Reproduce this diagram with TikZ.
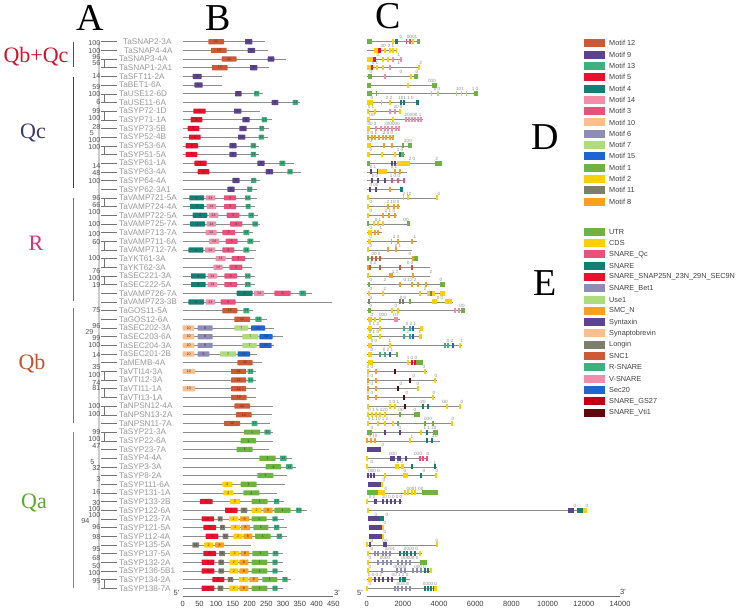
\documentclass[tikz,border=0pt]{standalone}
\usepackage{fontspec}
\setmainfont{Liberation Serif}
\newfontfamily\arialf{Liberation Sans}
\definecolor{m12}{HTML}{CC5A36}
\definecolor{m9}{HTML}{5C4390}
\definecolor{m13}{HTML}{3DB07E}
\definecolor{m5}{HTML}{E8112D}
\definecolor{m4}{HTML}{137F72}
\definecolor{m14}{HTML}{F28DAA}
\definecolor{m3}{HTML}{E9507B}
\definecolor{m10}{HTML}{FBBE8C}
\definecolor{m6}{HTML}{908CB8}
\definecolor{m7}{HTML}{AEDB7E}
\definecolor{m15}{HTML}{1D66D2}
\definecolor{m1}{HTML}{6DB33F}
\definecolor{m2}{HTML}{FFD000}
\definecolor{m11}{HTML}{7E7F6A}
\definecolor{m8}{HTML}{F8A11F}
\definecolor{gs27}{HTML}{C30012}
\definecolor{vti}{HTML}{5C0A0A}
\definecolor{cQbQc}{HTML}{D0142C}
\definecolor{cQc}{HTML}{3C3A6E}
\definecolor{cR}{HTML}{E0307A}
\definecolor{cQb}{HTML}{C8502A}
\definecolor{cQa}{HTML}{5BAA2E}
\definecolor{barQb}{HTML}{8B7A3A}
\definecolor{namegray}{HTML}{9A9A9A}
\definecolor{bootgray}{HTML}{555555}
\newcommand\Y[1]{{41.7+8.676*(#1)}}
\newcommand\gB[2]{\draw[bline] (182.7,\Y{#1}) -- ({#2/3},\Y{#1});}
\newcommand\mB[5]{\fill[#4,rounded corners=0.6pt] ({#2/3},{41.7+8.676*(#1)-2.6}) rectangle ({#3/3},{41.7+8.676*(#1)+2.6}); \node[mnum] at ({(#2+#3)/6},\Y{#1}) {#5};}
\newcommand\gC[2]{\draw[cline] (367,\Y{#1}) -- (#2,\Y{#1});}
\newcommand\eC[4]{\fill[#4] (#2,{41.7+8.676*(#1)-2.5}) rectangle (#3,{41.7+8.676*(#1)+2.5});}
\newcommand\tC[3]{\foreach \xx in {#2}{\fill[#3] ({\xx-0.6},{41.7+8.676*(#1)-2.5}) rectangle ({\xx+0.6},{41.7+8.676*(#1)+2.5});}}
\newcommand\pC[3]{\node[phase] at (#2,{41.7+8.676*(#1)-2.6}) {#3};}
\tikzset{
 gname/.style={font=\arialf\fontsize{8.2}{9}\selectfont, text=namegray, anchor=west, inner sep=0},
 boot/.style={font=\arialf\fontsize{7.2}{8}\selectfont, text=bootgray, anchor=east, inner sep=0},
 mnum/.style={font=\arialf\fontsize{3.6}{4}\selectfont, text=black!80, inner sep=0},
 phase/.style={font=\arialf\fontsize{4.6}{5}\selectfont, text=black!45, inner sep=0, anchor=south},
 bline/.style={draw=black!45, line width=0.6},
 cline/.style={draw=black!45, line width=0.6},
 tline/.style={draw=black!55, line width=0.5},
 letter/.style={font=\fontsize{38}{40}\selectfont, inner sep=0},
 grp/.style={font=\fontsize{22}{24}\selectfont, inner sep=0},
 legbox/.style={minimum width=21pt, minimum height=8pt, inner sep=0},
 legtext/.style={font=\arialf\fontsize{7.3}{8}\selectfont, text=black!75, anchor=west, inner sep=0},
 axlab/.style={font=\arialf\fontsize{7.5}{8}\selectfont, text=black!75, inner sep=0},
 gbar/.style={line width=1.2},
}
\begin{document}
\begin{tikzpicture}[x=1pt,y=-1pt]
\useasboundingbox[fill=white] (0,0) rectangle (743,613);
% panel letters
\node[letter] (LA) at (90,18) {A};
\node[letter] (LB) at (218,18) {B};
\node[letter] (LC) at (388,16.5) {C};
\node[letter] (LD) at (545,137) {D};
\node[letter] (LE) at (545,283) {E};
% group labels and bars
\node[grp,text=cQbQc] (GQbQc) at (36,57) {Qb+Qc};
\node[grp,text=cQc] (GQc) at (33,133) {Qc};
\node[grp,text=cR] (GR) at (36,243) {R};
\node[grp,text=cQb] (GQb) at (32,364) {Qb};
\node[grp,text=cQa] (GQa) at (34,503) {Qa};
\draw[gbar,cQbQc] (73.5,41.7) -- (73.5,66.7);
\draw[gbar,cQc] (73.5,76.7) -- (73.5,188.3);
\draw[gbar,cR] (73.5,198.3) -- (73.5,301);
\draw[gbar,barQb] (73.5,308) -- (73.5,423);
\draw[gbar,cQa] (73.5,431.7) -- (73.5,588);
% tree
\fill[black!20] (97.6,42) rectangle (100.2,590);
\foreach \i in {0,...,63} {\draw[tline] (101,\Y{\i}) -- (117,\Y{\i});}
\foreach \a/\b in {2/3,6/7,8/9,12/13,18/19,23/24,25/26,27/28,38/39,40/41,42/43,45/46,62/63} {
  \draw[tline] (104,\Y{\a}) -- (104,\Y{\b});}
\foreach \yy/\bv in {42.7/100,51/100,56.8/96,62.8/56,76/14,87.3/59,94.3/100,101.7/6,111/99,118.3/100,127.5/28,139.8/100,146.7/100,166/14,173.3/48,181/100,197.7/96,205/66,212.3/100,224.3/100,234.3/100,241.7/60,258.3/100,271.2/76,277.6/100,285/19,310/75,325.8/96,338.3/99,345/100,355/14,366.7/35,375/100,382.7/74,388.3/81,406/100,414/100,431.7/99,439.3/100,446/47,468.5/32,479.3/3,492.3/16,503.3/30,509.5/100,515.5/100,527.5/96,536.7/98,549.3/95,557.7/68,566/50,573.3/100,581/95}
  {\node[boot] at (100.5,\yy) {\bv};}
\node[boot] at (93.5,332) {29};
\node[boot] at (94,133.5) {5};
\node[boot] at (94.5,462) {5};
\node[boot] at (89.5,521.5) {94};
% gene names
\foreach \nm [count=\i from 0] in {TaSNAP2-3A,TaSNAP4-4A,TaSNAP3-4A,TaSNAP1-2A1,TaSFT11-2A,TaBET1-6A,TaUSE12-6D,TaUSE11-6A,TaSYP72-1D,TaSYP71-1A,TaSYP73-5B,TaSYP52-4B,TaSYP53-6A,TaSYP51-5A,TaSYP61-1A,TaSYP63-4A,TaSYP64-4A,TaSYP62-3A1,TaVAMP721-5A,TaVAMP724-4A,TaVAMP722-5A,TaVAMP725-7A,TaVAMP713-7A,TaVAMP711-6A,TaVAMP712-7A,TaYKT61-3A,TaYKT62-3A,TaSEC221-3A,TaSEC222-5A,TaVAMP726-7A,TaVAMP723-3B,TaGOS11-5A,TaGOS12-6A,TaSEC202-3A,TaSEC203-6A,TaSEC204-3A,TaSEC201-2B,TaMEMB-4A,TaVTI14-3A,TaVTI12-3A,TaVTI11-1A,TaVTI13-1A,TaNPSN12-4A,TaNPSN13-2A,TaNPSN11-7A,TaSYP21-3A,TaSYP22-6A,TaSYP23-7A,TaSYP4-4A,TaSYP3-3A,TaSYP8-2A,TaSYP111-6A,TaSYP131-1A,TaSYP133-2B,TaSYP122-6A,TaSYP123-7A,TaSYP121-5A,TaSYP112-4A,TaSYP135-5A,TaSYP137-5A,TaSYP132-2A,TaSYP136-5B1,TaSYP134-2A,TaSYP138-7A}
{\pgfmathsetmacro\gx{\i==0?123:(\i==1?124:119)}\node[gname] (g\i) at (\gx,\Y{\i}) {\nm};}
% ---------- panel B ----------
\gB{0}{795}\mB{0}{625}{672}{m12}{12}\mB{0}{735}{757}{m9}{9}
\gB{1}{803}\mB{1}{633}{680}{m12}{12}\mB{1}{743}{765}{m9}{9}
\gB{2}{858}\mB{2}{665}{710}{m12}{12}\mB{2}{803}{823}{m9}{9}
\gB{3}{808}\mB{3}{636}{683}{m12}{12}\mB{3}{750}{772}{m9}{9}
\gB{4}{667}\mB{4}{578}{605}{m9}{9}
\gB{5}{667}\mB{5}{583}{608}{m9}{9}
\gB{6}{790}\mB{6}{705}{725}{m9}{9}\mB{6}{762}{778}{m13}{13}
\gB{7}{900}\mB{7}{815}{835}{m9}{9}\mB{7}{878}{894}{m13}{13}
\gB{8}{780}\mB{8}{580}{617}{m5}{5}\mB{8}{702}{724}{m9}{9}
\gB{9}{815}\mB{9}{572}{607}{m5}{5}\mB{9}{727}{749}{m9}{9}\mB{9}{785}{801}{m13}{13}
\gB{10}{808}\mB{10}{563}{598}{m5}{5}\mB{10}{718}{740}{m9}{9}\mB{10}{778}{792}{m13}{13}
\gB{11}{805}\mB{11}{567}{602}{m5}{5}\mB{11}{714}{736}{m9}{9}\mB{11}{776}{792}{m13}{13}
\gB{12}{778}\mB{12}{557}{594}{m5}{5}\mB{12}{688}{710}{m9}{9}\mB{12}{752}{768}{m13}{13}
\gB{13}{778}\mB{13}{557}{592}{m5}{5}\mB{13}{688}{710}{m9}{9}\mB{13}{752}{768}{m13}{13}
\gB{14}{882}\mB{14}{583}{620}{m5}{5}\mB{14}{772}{794}{m9}{9}\mB{14}{838}{856}{m13}{13}
\gB{15}{902}\mB{15}{593}{628}{m5}{5}\mB{15}{797}{819}{m9}{9}\mB{15}{862}{878}{m13}{13}
\gB{16}{780}\mB{16}{697}{719}{m9}{9}\mB{16}{753}{769}{m13}{13}
\gB{17}{770}\mB{17}{682}{704}{m9}{9}\mB{17}{741}{757}{m13}{13}
\gB{18}{770}\mB{18}{568}{612}{m4}{4}\mB{18}{617}{645}{m14}{14}\mB{18}{672}{708}{m3}{3}\mB{18}{735}{752}{m13}{13}
\gB{19}{765}\mB{19}{570}{612}{m4}{4}\mB{19}{620}{648}{m14}{14}\mB{19}{672}{708}{m3}{3}\mB{19}{737}{752}{m13}{13}
\gB{20}{775}\mB{20}{578}{622}{m4}{4}\mB{20}{627}{655}{m14}{14}\mB{20}{680}{718}{m3}{3}\mB{20}{745}{762}{m13}{13}
\gB{21}{780}\mB{21}{570}{615}{m4}{4}\mB{21}{620}{648}{m14}{14}\mB{21}{690}{727}{m3}{3}\mB{21}{757}{774}{m13}{13}
\gB{22}{760}\mB{22}{617}{650}{m14}{14}\mB{22}{667}{705}{m3}{3}\mB{22}{730}{748}{m13}{13}
\gB{23}{780}\mB{23}{627}{657}{m14}{14}\mB{23}{677}{713}{m3}{3}\mB{23}{742}{760}{m13}{13}
\gB{24}{768}\mB{24}{565}{610}{m4}{4}\mB{24}{615}{645}{m14}{14}\mB{24}{667}{703}{m3}{3}\mB{24}{730}{748}{m13}{13}
\gB{25}{762}\mB{25}{647}{677}{m14}{14}\mB{25}{695}{735}{m3}{3}
\gB{26}{755}\mB{26}{640}{668}{m14}{14}\mB{26}{688}{727}{m3}{3}
\gB{27}{765}\mB{27}{573}{617}{m4}{4}\mB{27}{623}{651}{m14}{14}\mB{27}{673}{711}{m3}{3}\mB{27}{735}{752}{m13}{13}
\gB{28}{765}\mB{28}{573}{617}{m4}{4}\mB{28}{623}{651}{m14}{14}\mB{28}{673}{711}{m3}{3}\mB{28}{735}{752}{m13}{13}
\gB{29}{935}\mB{29}{710}{758}{m4}{4}\mB{29}{762}{792}{m14}{14}\mB{29}{823}{872}{m3}{3}\mB{29}{898}{918}{m13}{13}
\gB{30}{995}\mB{30}{565}{612}{m4}{4}\mB{30}{617}{645}{m14}{14}\mB{30}{662}{707}{m3}{3}
\gB{31}{760}\mB{31}{667}{712}{m12}{12}\mB{31}{730}{748}{m13}{13}
\gB{32}{800}\mB{32}{703}{750}{m12}{12}\mB{32}{766}{785}{m13}{13}
\gB{33}{822}\mB{33}{548}{583}{m10}{10}\mB{33}{593}{638}{m6}{6}\mB{33}{703}{745}{m7}{7}\mB{33}{753}{795}{m15}{15}
\gB{34}{848}\mB{34}{548}{583}{m10}{10}\mB{34}{593}{638}{m6}{6}\mB{34}{727}{775}{m7}{7}\mB{34}{778}{818}{m15}{15}
\gB{35}{822}\mB{35}{548}{583}{m10}{10}\mB{35}{593}{638}{m6}{6}\mB{35}{727}{770}{m7}{7}\mB{35}{778}{815}{m15}{15}
\gB{36}{770}\mB{36}{548}{583}{m10}{10}\mB{36}{593}{628}{m6}{6}\mB{36}{660}{708}{m7}{7}\mB{36}{713}{750}{m15}{15}
\gB{37}{785}\mB{37}{712}{758}{m12}{12}
\gB{38}{768}\mB{38}{548}{585}{m10}{10}\mB{38}{693}{738}{m12}{12}\mB{38}{743}{760}{m13}{13}
\gB{39}{768}\mB{39}{693}{738}{m12}{12}\mB{39}{743}{760}{m13}{13}
\gB{40}{768}\mB{40}{548}{585}{m10}{10}\mB{40}{693}{738}{m12}{12}
\gB{41}{768}\mB{41}{693}{740}{m12}{12}
\gB{42}{820}\mB{42}{703}{750}{m12}{12}
\gB{43}{815}\mB{43}{708}{755}{m12}{12}
\gB{44}{810}\mB{44}{672}{720}{m12}{12}\mB{44}{755}{772}{m13}{13}
\gB{45}{820}\mB{45}{732}{780}{m1}{1}\mB{45}{793}{812}{m13}{13}
\gB{46}{820}\mB{46}{722}{768}{m1}{1}
\gB{47}{808}\mB{47}{710}{758}{m1}{1}
\gB{48}{875}\mB{48}{778}{827}{m1}{1}\mB{48}{840}{860}{m13}{13}
\gB{49}{888}\mB{49}{797}{843}{m1}{1}\mB{49}{858}{878}{m13}{13}
\gB{50}{862}\mB{50}{772}{820}{m1}{1}
\gB{51}{855}\mB{51}{667}{697}{m2}{2}\mB{51}{722}{770}{m1}{1}
\gB{52}{832}\mB{52}{670}{700}{m2}{2}\mB{52}{730}{778}{m1}{1}
\gB{53}{852}\mB{53}{600}{638}{m5}{5}\mB{53}{690}{720}{m2}{2}\mB{53}{755}{803}{m1}{1}\mB{53}{822}{838}{m13}{13}
\gB{54}{920}\mB{54}{675}{713}{m5}{5}\mB{54}{722}{742}{m11}{11}\mB{54}{755}{785}{m2}{2}\mB{54}{790}{818}{m8}{8}\mB{54}{823}{872}{m1}{1}\mB{54}{888}{905}{m13}{13}
\gB{55}{852}\mB{55}{605}{642}{m5}{5}\mB{55}{653}{668}{m11}{11}\mB{55}{687}{715}{m2}{2}\mB{55}{720}{748}{m8}{8}\mB{55}{755}{800}{m1}{1}\mB{55}{817}{833}{m13}{13}
\gB{56}{862}\mB{56}{610}{648}{m5}{5}\mB{56}{660}{675}{m11}{11}\mB{56}{692}{720}{m2}{2}\mB{56}{723}{750}{m8}{8}\mB{56}{760}{805}{m1}{1}\mB{56}{822}{838}{m13}{13}
\gB{57}{862}\mB{57}{617}{655}{m5}{5}\mB{57}{668}{685}{m11}{11}\mB{57}{700}{728}{m2}{2}\mB{57}{730}{757}{m8}{8}\mB{57}{765}{812}{m1}{1}\mB{57}{830}{846}{m13}{13}
\gB{58}{752}\mB{58}{577}{597}{m11}{11}\mB{58}{612}{640}{m2}{2}\mB{58}{645}{672}{m8}{8}
\gB{59}{850}\mB{59}{610}{648}{m5}{5}\mB{59}{657}{675}{m11}{11}\mB{59}{690}{718}{m2}{2}\mB{59}{722}{748}{m8}{8}\mB{59}{757}{805}{m1}{1}\mB{59}{818}{835}{m13}{13}
\gB{60}{848}\mB{60}{605}{643}{m5}{5}\mB{60}{655}{672}{m11}{11}\mB{60}{688}{715}{m2}{2}\mB{60}{718}{745}{m8}{8}\mB{60}{755}{802}{m1}{1}\mB{60}{817}{833}{m13}{13}
\gB{61}{848}\mB{61}{605}{643}{m5}{5}\mB{61}{655}{672}{m11}{11}\mB{61}{688}{715}{m2}{2}\mB{61}{718}{745}{m8}{8}\mB{61}{755}{802}{m1}{1}\mB{61}{817}{833}{m13}{13}
\gB{62}{872}\mB{62}{637}{673}{m5}{5}\mB{62}{683}{700}{m11}{11}\mB{62}{717}{745}{m2}{2}\mB{62}{748}{775}{m8}{8}\mB{62}{787}{832}{m1}{1}\mB{62}{847}{863}{m13}{13}
\gB{63}{848}\mB{63}{605}{643}{m5}{5}\mB{63}{653}{670}{m11}{11}\mB{63}{688}{715}{m2}{2}\mB{63}{718}{745}{m8}{8}\mB{63}{755}{802}{m1}{1}\mB{63}{817}{833}{m13}{13}
% axis B
\draw[black!55,line width=0.6] (182.7,596.7) -- (333.3,596.7);
\foreach \v [count=\k from 0] in {0,50,...,450} {\node[axlab] at ({182.7+\k*16.73},604) {\v};}
\node[axlab] (B5) at (176.5,592.5) {5'};
\node[axlab] (B3) at (337,592.5) {3'};
% ---------- panel C ----------
\gC{0}{420}\eC{0}{367}{371.7}{m1}\tC{0}{393}{m2}\eC{0}{395}{398.3}{m4}\tC{0}{406.7,410}{m3}\tC{0}{413}{m2}\eC{0}{416.7}{420}{m1}\pC{0}{401}{0}\pC{0}{412}{0001}
\gC{1}{397}\eC{1}{374}{378}{m2}\eC{1}{378}{381}{m5}\tC{1}{385,390,393,396.5}{m2}\pC{1}{383}{30}\pC{1}{391}{2 1}
\gC{2}{402}\eC{2}{367}{373}{m2}\eC{2}{373.3}{376}{m5}\tC{2}{383,388}{m2}\tC{2}{393,401}{m14}\pC{2}{378}{0}\pC{2}{399}{1}
\gC{3}{420}\eC{3}{367}{370.7}{m2}\eC{3}{370.7}{373.3}{m5}\tC{3}{377,383}{m2}\tC{3}{390}{m14}\tC{3}{419}{m2}\pC{3}{375}{0 1}\pC{3}{399}{1}\pC{3}{421}{2}
\gC{4}{418}\eC{4}{368}{372}{m1}\tC{4}{385}{m14}\tC{4}{411}{m2}\eC{4}{414}{418}{m1}\pC{4}{371}{0}\pC{4}{401}{0}\pC{4}{417}{0}
\gC{5}{437}\tC{5}{368,370}{m1}\tC{5}{408}{m2}\eC{5}{431.7}{436.7}{m1}\pC{5}{432}{000}
\gC{6}{478}\eC{6}{367}{372}{m1}\tC{6}{376.7}{m1}\tC{6}{431.7,438,456.7,461.7,466.7}{m7}\eC{6}{474}{478}{m1}\pC{6}{437}{0 0}\pC{6}{460}{101}\pC{6}{475}{1 0}
\gC{7}{418}\eC{7}{367}{372.7}{m2}\tC{7}{381.7,390}{m2}\eC{7}{400}{402}{m4}\eC{7}{403}{405}{m4}\eC{7}{416}{419}{m4}\pC{7}{372}{0}\pC{7}{389}{2 2}\pC{7}{406}{101 1 0}
\gC{8}{400}\eC{8}{367}{369}{m2}\tC{8}{375}{m2}\tC{8}{390,395}{m14}\tC{8}{400}{m2}\pC{8}{371}{0 1}\pC{8}{398}{20 0}
\gC{9}{423}\eC{9}{367}{369.5}{m2}\tC{9}{393}{m2}\tC{9}{406,409,412,415,418,421}{m14}\pC{9}{372}{00}\pC{9}{413}{20200 1}
\gC{10}{400}\eC{10}{367}{370}{m2}\tC{10}{376,381,385,388,392,396,399}{m14}\pC{10}{372}{00 3}\pC{10}{392}{200000}
\gC{11}{393}\tC{11}{368,372,375,379,383,386,390,393}{m8}\pC{11}{372}{0 0 1}\pC{11}{388}{2 5 0}
\gC{12}{412}\eC{12}{367}{370.7}{m2}\tC{12}{384,392}{m8}\tC{12}{403}{m1}\eC{12}{408}{412}{m1}\pC{12}{371}{0}\pC{12}{408}{200}
\gC{13}{405}\eC{13}{367}{370}{m2}\tC{13}{382,395}{m2}\tC{13}{400}{m4}\eC{13}{401}{404}{m1}\pC{13}{371}{0}\pC{13}{400}{1 0}
\gC{14}{442}\eC{14}{367}{370}{m1}\tC{14}{392,395}{m9}\eC{14}{396.7}{410}{m2}\eC{14}{435}{441.7}{m1}\pC{14}{412}{2 0}\pC{14}{437}{2}
\gC{15}{407}\tC{15}{371,378}{m9}\eC{15}{378}{386.7}{m2}\tC{15}{395,400}{m8}\pC{15}{373}{0 1}\pC{15}{394}{0 2}
\gC{16}{405}\tC{16}{372,378,385}{m9}\tC{16}{392,398,404}{m3}\pC{16}{375}{0 0}\pC{16}{395}{1 0 0}
\gC{17}{403}\tC{17}{370,376}{m9}\tC{17}{390}{m8}\eC{17}{400}{402.5}{m4}\pC{17}{374}{0 00}
\gC{18}{438}\eC{18}{367}{369}{m2}\tC{18}{403.3,408}{m2}\tC{18}{437}{m2}\pC{18}{407}{2 10}\pC{18}{439}{0}
\gC{19}{400}\tC{19}{368}{m2}\tC{19}{388,394,398}{m8}\pC{19}{371}{0}\pC{19}{393}{2 10 0}
\gC{20}{397}\tC{20}{368}{m2}\tC{20}{383,389,395}{m8}\pC{20}{371}{0}\pC{20}{390}{2 1 0}
\gC{21}{410}\tC{21}{368}{m1}\tC{21}{374,378,383}{m2}\eC{21}{406.7}{410}{m1}\pC{21}{378}{0 1}\pC{21}{406}{00}
\gC{22}{382}\eC{22}{368}{372}{m2}\tC{22}{375,378}{m8}\pC{22}{371}{0}\pC{22}{381}{1}
\gC{23}{417}\eC{23}{368}{371}{m2}\tC{23}{391.7,398}{m8}\tC{23}{412}{m8}\pC{23}{371}{0}\pC{23}{396}{2 3}\pC{23}{415}{1}
\gC{24}{412}\tC{24}{368}{m2}\tC{24}{388,396}{m8}\pC{24}{371}{0}\pC{24}{398}{0 1}
\gC{25}{418}\tC{25}{368}{m1}\tC{25}{372,376,380}{m12}\tC{25}{413}{m8}\eC{25}{414}{418}{m1}\pC{25}{376}{00 0}\pC{25}{410}{0}
\gC{26}{430}\tC{26}{368}{m8}\tC{26}{370,380,400,412}{m12}\pC{26}{373}{0 2}\pC{26}{410}{0 0}
\gC{27}{430}\tC{27}{368}{m2}\tC{27}{390,392}{m8}\tC{27}{413}{m8}\pC{27}{395}{1 2}\pC{27}{431}{2}
\gC{28}{443}\eC{28}{368}{370}{m1}\tC{28}{400,412,418,426}{m8}\eC{28}{440}{445}{m1}\pC{28}{371}{0}\pC{28}{385}{2}\pC{28}{410}{0 12 2}\pC{28}{441}{0}
\gC{29}{445}\eC{29}{368}{370}{m2}\tC{29}{383}{m2}\tC{29}{420}{m2}\eC{29}{427}{435}{m2}\tC{29}{431}{m11}\eC{29}{440}{445}{m2}\pC{29}{371}{0}\pC{29}{385}{2}\pC{29}{425}{2}
\gC{30}{453}\eC{30}{368}{370}{m11}\tC{30}{400,403}{m11}\tC{30}{410}{m1}\eC{30}{431.7}{436.7}{m2}\eC{30}{445}{452}{m2}\pC{30}{371}{0}\pC{30}{403}{0 0}\pC{30}{440}{0 0}
\gC{31}{465}\eC{31}{368}{371}{m1}\tC{31}{392,398}{m2}\tC{31}{455,459}{m14}\eC{31}{461}{465}{m1}\pC{31}{371}{0}\pC{31}{396}{0}\pC{31}{462}{00}
\gC{32}{400}\eC{32}{368}{372}{m2}\tC{32}{375,380}{m2}\tC{32}{395,397}{m14}\pC{32}{372}{0}\pC{32}{383}{000}\pC{32}{396}{07}
\gC{33}{423}\eC{33}{368}{372}{m2}\tC{33}{380}{m2}\tC{33}{404,410}{m13}\tC{33}{413}{m15}\eC{33}{420}{423}{m2}\pC{33}{374}{0 1 2}\pC{33}{411}{0 2 1}
\gC{34}{422}\eC{34}{368}{372}{m2}\tC{34}{380}{m2}\tC{34}{404,410}{m13}\tC{34}{413}{m15}\eC{34}{419}{422}{m2}\pC{34}{374}{0 1 0}\pC{34}{408}{2}\pC{34}{420}{1}
\gC{35}{462}\eC{35}{368}{372}{m2}\tC{35}{390}{m2}\tC{35}{445,448}{m13}\tC{35}{453}{m15}\tC{35}{460}{m2}\pC{35}{374}{0 0}\pC{35}{390}{1}\pC{35}{450}{0 2}\pC{35}{462}{1}
\gC{36}{398}\eC{36}{368}{372}{m2}\tC{36}{380,385}{m13}\tC{36}{390}{m15}\tC{36}{397}{m1}\pC{36}{372}{0}\pC{36}{388}{0 2 1}
\gC{37}{423}\eC{37}{368}{373}{m2}\tC{37}{408}{m2}\tC{37}{412,415}{m5}\eC{37}{416}{423}{m1}\pC{37}{412}{1 0 0}
\gC{38}{427}\tC{38}{368}{m2}\tC{38}{376}{m8}\tC{38}{395}{vti}\tC{38}{425}{m2}\pC{38}{370}{0 0}\pC{38}{424}{0}
\gC{39}{437}\tC{39}{368,376}{m8}\tC{39}{410}{vti}\tC{39}{435}{m2}\pC{39}{370}{0 0}\pC{39}{414}{0}\pC{39}{436}{0}
\gC{40}{418}\tC{40}{368,376}{m8}\tC{40}{398}{vti}\tC{40}{418}{m2}\pC{40}{370}{0 0}\pC{40}{401}{0}\pC{40}{418}{0}
\gC{41}{435}\tC{41}{368,376}{m8}\tC{41}{404}{vti}\tC{41}{433}{m2}\pC{41}{370}{0 0}\pC{41}{407}{0}\pC{41}{434}{0}
\gC{42}{460}\tC{42}{368}{m2}\tC{42}{390,395}{m2}\tC{42}{405}{vti}\tC{42}{423,428}{m4}\tC{42}{447,460}{m2}\pC{42}{394}{1 0 1}\pC{42}{423}{20}\pC{42}{445}{00}\pC{42}{462}{0}
\gC{43}{420}\tC{43}{368,372,376,380,385}{m2}\tC{43}{400}{m1}\eC{43}{414}{420}{m1}\pC{43}{378}{0 1 5 120}\pC{43}{401}{00}\pC{43}{415}{0}
\gC{44}{452}\tC{44}{368,378,385,393}{m2}\tC{44}{398}{m1}\tC{44}{425,433}{m1}\tC{44}{452}{m2}\pC{44}{378}{0 1 10 1 2}\pC{44}{428}{000}\pC{44}{453}{0}
\gC{45}{438}\eC{45}{367}{372}{m1}\tC{45}{385,400}{m9}\tC{45}{421}{m2}\tC{45}{427}{m4}\eC{45}{433}{438}{m1}\pC{45}{372}{0}\pC{45}{400}{0}\pC{45}{430}{1 1 20}
\gC{46}{440}\tC{46}{367,371,375}{m8}\tC{46}{410}{m2}\tC{46}{427,432}{m4}\pC{46}{373}{0 10}\pC{46}{412}{1}\pC{46}{435}{20}
\eC{47}{367}{381}{m9}\pC{47}{383}{0}
\gC{48}{428}\tC{48}{367}{m2}\eC{48}{390}{395}{m9}\tC{48}{398,400,406}{m9}\tC{48}{420,423,427}{m3}\pC{48}{393}{000}\pC{48}{418}{000}\pC{48}{428}{0}
\gC{49}{437}\tC{49}{367}{m2}\eC{49}{395}{399}{m2}\eC{49}{400.5}{403.5}{m2}\tC{49}{412}{m4}\tC{49}{435}{m4}\pC{49}{372}{0}\pC{49}{400}{2 0}\pC{49}{435}{1}
\gC{50}{437}\tC{50}{368,371,374}{m9}\tC{50}{385}{m2}\eC{50}{403}{408}{m2}\tC{50}{421}{m4}\tC{50}{436}{m2}\pC{50}{374}{000 0}\pC{50}{405}{0}\pC{50}{424}{0}\pC{50}{437}{0}
\eC{51}{368}{381}{m9}\eC{51}{381}{383}{m2}\pC{51}{384}{0}
\gC{52}{438}\eC{52}{367}{378}{m1}\eC{52}{378}{385}{m2}\tC{52}{405,408,412,415}{m2}\eC{52}{421.7}{438}{m1}\pC{52}{386}{0}\pC{52}{415}{0001 00}
\gC{53}{402}\tC{53}{367}{m2}\eC{53}{373.5}{376.5}{m9}\tC{53}{383,387,391,395,400}{m9}\pC{53}{372}{0 2}\pC{53}{392}{10 0 0 0 0}
\gC{54}{587}\eC{54}{367}{369}{m2}\eC{54}{568}{574}{m9}\eC{54}{576.7}{583}{m4}\eC{54}{583}{587}{m2}\pC{54}{575}{0}\pC{54}{587}{0}
\eC{55}{368}{384}{m9}\eC{55}{380}{384}{m4}\pC{55}{376}{0}\pC{55}{387}{0}
\eC{56}{369}{382}{m9}\eC{56}{382}{384}{m2}\pC{56}{385}{0}
\eC{57}{369}{382}{m9}\eC{57}{382}{384}{m2}\pC{57}{385}{0}
\gC{58}{437}\tC{58}{367}{m2}\tC{58}{370,384,386}{m9}\tC{58}{437}{m2}\pC{58}{372}{0}\pC{58}{385}{00}\pC{58}{437}{0}
\gC{59}{422}\tC{59}{368}{m2}\tC{59}{375,378,383,386,390}{m6}\tC{59}{400,404,407,411,415}{m4}\tC{59}{420}{m2}\pC{59}{372}{0}\pC{59}{390}{0201}\pC{59}{411}{0000 0}
\gC{60}{427}\tC{60}{368}{m2}\tC{60}{378,383,387,391,398,402,406,410}{m6}\eC{60}{420}{427}{m1}\pC{60}{370}{0}\pC{60}{385}{0000}\pC{60}{410}{00000 0}
\gC{61}{432}\tC{61}{368}{m2}\tC{61}{382,397,401,405,413,417,421}{m6}\tC{61}{425,428}{m4}\tC{61}{431}{m2}\pC{61}{370}{0}\pC{61}{400}{00000}\pC{61}{420}{000 0}
\gC{62}{410}\eC{62}{368}{372}{m2}\tC{62}{375,379,383,388,392}{m9}\tC{62}{400,403,405}{m4}\pC{62}{375}{0 0 0 2}\pC{62}{400}{00 1 2 0}
\gC{63}{437}\tC{63}{367}{m2}\tC{63}{395,398,402,406,410}{m6}\tC{63}{425,428,431,434}{m4}\eC{63}{434}{437}{m2}\pC{63}{370}{0}\pC{63}{403}{00000}\pC{63}{430}{0000 0}
% axis C
\draw[black!55,line width=0.6] (366.7,596.7) -- (620,596.7);
\foreach \v [count=\k from 0] in {0,2000,4000,6000,8000,10000,12000,14000} {\node[axlab] at ({366.7+\k*36.19},604) {\v};}
\node[axlab] (C5) at (360,592.5) {5'};
\node[axlab] (C3) at (623,591.5) {3'};
% ---------- legend D ----------
\foreach \c/\t [count=\k from 0] in {m12/Motif 12,m9/Motif 9,m13/Motif 13,m5/Motif 5,m4/Motif 4,m14/Motif 14,m3/Motif 3,m10/Motif 10,m6/Motif 6,m7/Motif 7,m15/Motif 15,m1/Motif 1,m2/Motif 2,m11/Motif 11,m8/Motif 8}
{\node[legbox,fill=\c] (dk\k) at (594.5,{43.3+11.3*\k}) {};
 \node[legtext] (dt\k) at (609,{43.3+11.3*\k}) {\t};}
% ---------- legend E ----------
\foreach \c/\t [count=\k from 0] in {m1/UTR,m2/CDS,m3/SNARE\_Qc,m4/SNARE,m5/SNARE\_SNAP25N\_23N\_29N\_SEC9N,m6/SNARE\_Bet1,m7/Use1,m8/SMC\_N,m9/Syntaxin,m10/Synaptobrevin,m11/Longin,m12/SNC1,m13/R-SNARE,m14/V-SNARE,m15/Sec20,gs27/SNARE\_GS27,vti/SNARE\_Vti1}
{\node[legbox,fill=\c] (ek\k) at (594.5,{231.7+11.31*\k}) {};
 \node[legtext] (et\k) at (609,{231.7+11.31*\k}) {\t};}
\end{tikzpicture}
\end{document}
